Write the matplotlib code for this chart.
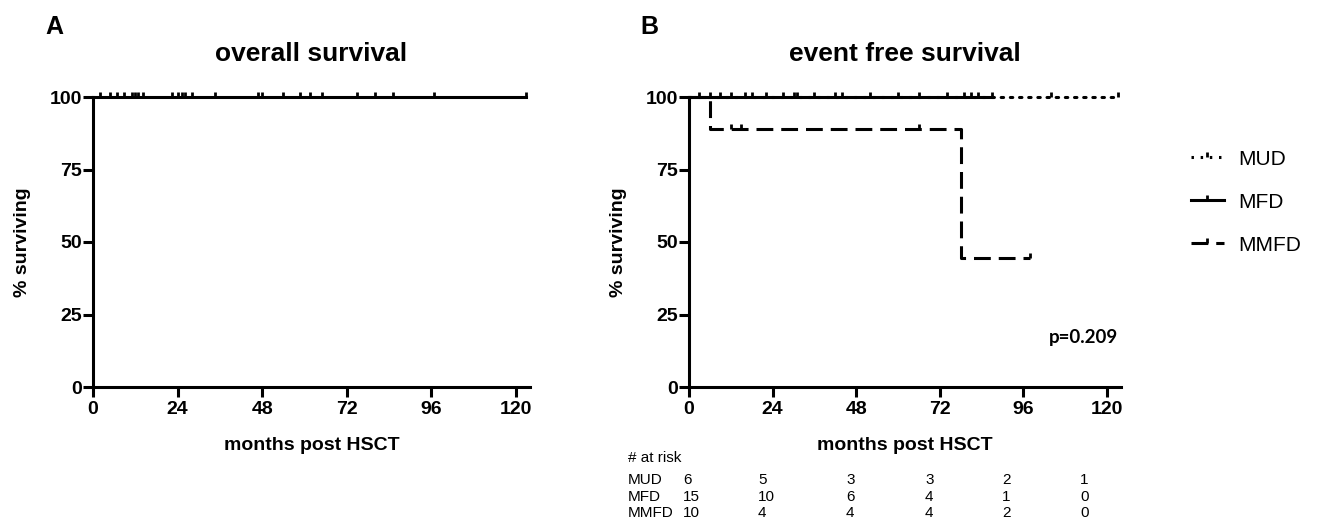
import matplotlib.pyplot as plt
from matplotlib.lines import Line2D

plt.rcParams['font.family'] = ['Liberation Sans', 'DejaVu Sans']

# overall survival: everyone alive, censored follow-up times (months)
os_times = [0, 123]
os_surv = [100, 100]
os_censor = [2, 4.8, 6.8, 8.8, 11, 11.9, 12.7, 14.2, 22.4, 24.1, 25.2, 26.1, 28,
             34.6, 46.7, 47.9, 53.8, 58.6, 61.5, 64.9, 74.8, 79.9, 85, 96.9, 123]

# event free survival per donor group
groups = ["MUD", "MFD", "MMFD"]
mud_times = [0, 123]
mud_surv = [100, 100]
mud_censor = [16, 31, 42, 81, 104, 123]
mfd_times = [0, 87]
mfd_surv = [100, 100]
mfd_censor = [3, 6, 9, 12, 18, 22, 27, 30, 36, 44, 52, 60, 66, 74, 79, 83, 87]
mmfd_times = [0, 6, 78, 98]
mmfd_surv = [100, 88.9, 44.4, 44.4]
mmfd_censor = [12, 15, 66, 98]
mmfd_censor_surv = [88.9, 88.9, 88.9, 44.4]
p_value = "p=0.209"

# numbers at risk
risk_months = [0, 24, 48, 72, 96, 120]
mud_risk = [6, 5, 3, 3, 2, 1]
mfd_risk = [15, 10, 6, 4, 1, 0]
mmfd_risk = [10, 4, 4, 4, 2, 0]

xticks = [0, 24, 48, 72, 96, 120]
yticks = [0, 25, 50, 75, 100]

W, H = 1320, 522
fig = plt.figure(figsize=(W / 100, H / 100), dpi=100)

LW = 2.2
MS = 3.8
styles = {"MUD": (0, (0.8, 2.2)), "MFD": "-", "MMFD": (0, (5.5, 2.6))}


def px(x, y):
    return x / W, 1 - y / H


def setup(ax, title):
    ax.set_xlim(0, 124)
    ax.set_ylim(0, 100)
    ax.set_xticks(xticks)
    ax.set_yticks(yticks)
    for s in ["top", "right"]:
        ax.spines[s].set_visible(False)
    for s in ["left", "bottom"]:
        ax.spines[s].set_linewidth(LW)
    ax.tick_params(axis="both", width=LW, length=7, labelsize=14)
    ax.tick_params(axis="y", pad=1)
    ax.tick_params(axis="x", pad=3)
    for lab in ax.get_xticklabels() + ax.get_yticklabels():
        lab.set_fontweight("bold")
    ax.set_xlabel("months post HSCT", fontsize=14, fontweight="bold", labelpad=14)
    ax.set_ylabel("% surviving", fontsize=14, fontweight="bold", labelpad=13)
    ax.set_title(title, fontsize=19, fontweight="bold", pad=26)


def censor(ax, times, surv):
    ax.plot(times, surv, ls="none", marker=2, ms=MS, mew=2, color="black", clip_on=False)


# panel A
ax1 = fig.add_axes([93 / W, 1 - 387 / H, 437 / W, 290 / H])
setup(ax1, "overall survival")
ax1.plot(os_times, os_surv, color="black", lw=LW, drawstyle="steps-post", clip_on=False)
censor(ax1, os_censor, [100] * len(os_censor))

# panel B
ax2 = fig.add_axes([689 / W, 1 - 387 / H, 432 / W, 290 / H])
setup(ax2, "event free survival")
ax2.plot(mud_times, mud_surv, color="black", lw=LW, ls=styles["MUD"],
         dash_capstyle="round", drawstyle="steps-post", clip_on=False)
censor(ax2, mud_censor, [100] * len(mud_censor))
ax2.plot(mfd_times, mfd_surv, color="black", lw=LW, drawstyle="steps-post", clip_on=False)
censor(ax2, mfd_censor, [100] * len(mfd_censor))
ax2.plot(mmfd_times, mmfd_surv, color="black", lw=LW, ls=styles["MMFD"],
         drawstyle="steps-post", clip_on=False)
censor(ax2, mmfd_censor, mmfd_censor_surv)

fig.text(*px(1118, 338), p_value, ha="right", va="center", fontsize=13.5,
         fontweight="bold", family=["Lato", "DejaVu Sans"])

# legend
handles = [Line2D([0], [0], color="black", lw=LW, ls=styles[g], marker=2, ms=MS, mew=2)
           for g in groups]
fig.legend(handles, groups, loc="upper left", bbox_to_anchor=px(1172, 131),
           frameon=False, fontsize=15, handlelength=1.6, handletextpad=0.7,
           labelspacing=1.15, numpoints=1)

# panel letters
fig.text(*px(45, 27), "A", fontsize=18, fontweight="bold", va="center")
fig.text(*px(640, 27), "B", fontsize=18, fontweight="bold", va="center")

# number at risk table
col_x = [683, 758, 846, 925, 1002, 1080]
row_y = [480, 497, 513]
fig.text(*px(628, 458), "# at risk", fontsize=11, va="center")
for g, counts, y in zip(groups, [mud_risk, mfd_risk, mmfd_risk], row_y):
    fig.text(*px(628, y), g, fontsize=11, va="center")
    for x, c in zip(col_x, counts):
        fig.text(*px(x, y), str(c), fontsize=11, va="center")

fig.savefig("out.png", dpi=100)
